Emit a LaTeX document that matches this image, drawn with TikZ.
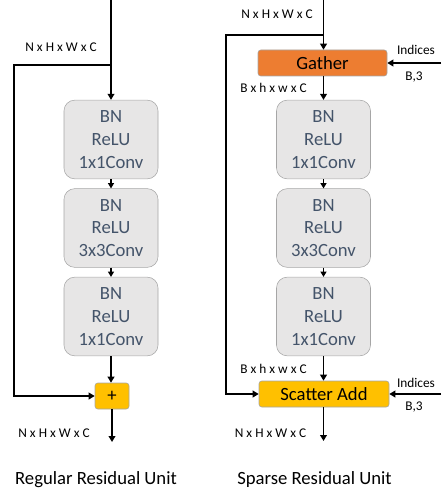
\documentclass[tikz,border=0pt]{standalone}
\usepackage{fontspec}
\setmainfont{Carlito}
\usepackage{xcolor}
\usetikzlibrary{positioning,calc,arrows.meta}

\definecolor{boxfill}{HTML}{E7E6E6}
\definecolor{boxline}{HTML}{A6A6A6}
\definecolor{boxtext}{HTML}{44546A}
\definecolor{gatherfill}{HTML}{ED7D31}
\definecolor{addfill}{HTML}{FFC000}

\begin{document}
\begin{tikzpicture}[
    x=0.75pt, y=-0.75pt,
    blk/.style={draw=boxline, fill=boxfill, rounded corners=8pt, minimum width=70.5pt, minimum height=59pt, align=center, text=boxtext, font=\fontsize{14}{17}\selectfont, inner sep=0pt},
    opbox/.style={draw=boxline, rounded corners=2pt, minimum height=19.5pt, inner sep=0pt, font=\fontsize{14}{17}\selectfont},
    dims/.style={font=\fontsize{10}{12}\selectfont, inner sep=0pt},
    title/.style={font=\fontsize{14}{17}\selectfont, inner sep=0pt},
    flow/.style={line width=1.4pt, -{Triangle[length=4.5pt,width=5pt]}},
    thin/.style={line width=0.9pt, -{Triangle[length=4pt,width=4.5pt]}}
]
    \useasboundingbox (0,0) rectangle (442,495);

    % Regular residual unit
    \node [blk] (l1) at (111,139.5) {BN\\ReLU\\1x1Conv};
    \node [blk] (l2) at (111,228) {BN\\ReLU\\3x3Conv};
    \node [blk] (l3) at (111,316.5) {BN\\ReLU\\1x1Conv};
    \node [opbox, fill=addfill, minimum width=25.5pt] (lplus) at (112,396) {+};

    \coordinate (lin) at (111,0);
    \coordinate (lsplit) at (111,65);
    \coordinate (lcorner) at (14,65);
    \coordinate (lout) at (112,442);

    \draw [flow] (lin) -- (l1.north);
    \draw [thin] (l1) -- (l2);
    \draw [thin] (l2) -- (l3);
    \draw [flow] (l3.south) -- (l3.south |- lplus.north);
    \draw [flow] (lsplit) -- (lcorner) |- (lplus.west);
    \draw [flow] (lplus.south) -- (lout);

    \node [dims] at (61,47) {N x H x W x C};
    \node [dims] at (54,433) {N x H x W x C};
    \node [title] at (96,480) {Regular Residual Unit};

    % Sparse residual unit
    \node [opbox, fill=gatherfill, minimum width=96.75pt] (gather) at (322.5,63) {Gather};
    \node [blk] (r1) at (323.5,139.5) {BN\\ReLU\\1x1Conv};
    \node [blk] (r2) at (323.5,228) {BN\\ReLU\\3x3Conv};
    \node [blk] (r3) at (323.5,316.5) {BN\\ReLU\\1x1Conv};
    \node [opbox, fill=addfill, minimum width=97.5pt] (scatter) at (324,394) {Scatter Add};

    \coordinate (rin) at (323.5,0);
    \coordinate (rsplit) at (323.5,35);
    \coordinate (rcorner) at (226,35);
    \coordinate (rout) at (323.5,441);
    \coordinate (gidx) at (441,63);
    \coordinate (sidx) at (441,394);

    \draw [flow] (rin) -- (rin |- gather.north);
    \draw [flow] (rin |- gather.south) -- (r1.north);
    \draw [thin] (r1) -- (r2);
    \draw [thin] (r2) -- (r3);
    \draw [flow] (r3.south) -- (r3.south |- scatter.north);
    \draw [flow] (rsplit) -- (rcorner) |- (scatter.west);
    \draw [flow] (rin |- scatter.south) -- (rout);
    \draw [flow] (gidx) -- (gather.east);
    \draw [flow] (sidx) -- (scatter.east);

    \node [dims] at (277,14) {N x H x W x C};
    \node [dims] at (273.5,88) {B x h x w x C};
    \node [dims] at (273.5,369) {B x h x w x C};
    \node [dims] at (270.5,433) {N x H x W x C};
    \node [dims] at (416,50) {Indices};
    \node [dims] at (414,77) {B,3};
    \node [dims] at (416,383) {Indices};
    \node [dims] at (414,407) {B,3};
    \node [title] at (314.5,480) {Sparse Residual Unit};
\end{tikzpicture}
\end{document}
